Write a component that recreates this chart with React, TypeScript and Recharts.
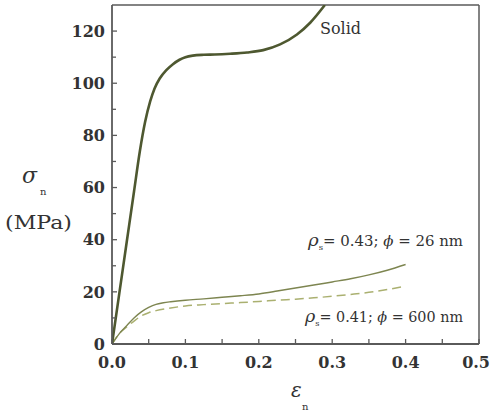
import { LineChart, Line, XAxis, YAxis, ReferenceLine } from "recharts";

// solid (bulk) curve
const solidX = [0, 0.01, 0.02, 0.03, 0.038, 0.045, 0.052, 0.058, 0.065, 0.074, 0.083, 0.092, 0.1, 0.11, 0.125, 0.14, 0.161, 0.184, 0.206, 0.229, 0.252, 0.27, 0.29];
const solidY = [0, 19.5, 39, 58.5, 74, 85, 93, 98, 101.8, 105, 107.3, 109, 110, 110.6, 110.9, 111, 111.3, 111.8, 112.7, 114.9, 118.7, 123.2, 130];

// rho = 0.43, phi = 26 nm
const fineX = [0, 0.01, 0.02, 0.03, 0.04, 0.05, 0.06, 0.07, 0.08, 0.1, 0.125, 0.15, 0.175, 0.2, 0.225, 0.25, 0.275, 0.3, 0.325, 0.35, 0.375, 0.4];
const fineY = [0, 4, 7, 10, 12.3, 14, 15.2, 15.8, 16.2, 16.8, 17.3, 17.9, 18.5, 19.2, 20.3, 21.5, 22.6, 23.8, 25, 26.5, 28.3, 30.5];

// rho = 0.41, phi = 600 nm
const coarseX = [0, 0.01, 0.02, 0.03, 0.04, 0.05, 0.06, 0.08, 0.1, 0.125, 0.15, 0.175, 0.2, 0.225, 0.25, 0.275, 0.3, 0.325, 0.35, 0.375, 0.4];
const coarseY = [0, 4, 6.5, 8.8, 10.8, 12, 12.8, 13.8, 14.6, 15.1, 15.5, 15.9, 16.3, 16.8, 17.2, 17.7, 18.3, 19, 19.8, 20.9, 22.2];

const xTicks = [0, 0.05, 0.1, 0.15, 0.2, 0.25, 0.3, 0.35, 0.4, 0.45, 0.5];
const yTicks = [0, 10, 20, 30, 40, 50, 60, 70, 80, 90, 100, 110, 120];

const toPoints = (xs: number[], ys: number[]) => xs.map((x, i) => ({ x, y: ys[i] }));
const solid = toPoints(solidX, solidY);
const fine = toPoints(fineX, fineY);
const coarse = toPoints(coarseX, coarseY);

const FONT = "DejaVu Serif, Liberation Serif, serif";
const AXIS = "#5a5a5a";

function XTick(props: any) {
  const { x, y, payload } = props;
  const v = payload.value as number;
  const major = Math.round(v * 20) % 2 === 0;
  const last = v >= 0.5;
  return (
    <g>
      <line x1={x} y1={y} x2={x} y2={y - 5} stroke={AXIS} strokeWidth={1.3} />
      {major && (
        <text
          x={last ? 490 : x}
          y={y + 24}
          textAnchor={last ? "end" : "middle"}
          fontFamily={FONT}
          fontWeight="bold"
          fontSize={16}
          fill="#333"
        >
          {v.toFixed(1)}
        </text>
      )}
    </g>
  );
}

function YTick(props: any) {
  const { x, y, payload } = props;
  const v = payload.value as number;
  const major = v % 20 === 0;
  return (
    <g>
      <line x1={x} y1={y} x2={x + (major ? 5 : 4)} y2={y} stroke={AXIS} strokeWidth={1.3} />
      {major && (
        <text x={x - 7} y={y} dy="0.36em" textAnchor="end" fontFamily={FONT} fontWeight="bold" fontSize={16} fill="#333">
          {v}
        </text>
      )}
    </g>
  );
}

export default function App() {
  return (
    <div style={{ position: "absolute", left: 0, top: 0, width: 491, height: 412, background: "#fff" }}>
      <LineChart width={491} height={412} margin={{ top: 5, right: 12, bottom: 0, left: 0 }}>
        <XAxis
          type="number"
          dataKey="x"
          domain={[0, 0.5]}
          ticks={xTicks}
          interval={0}
          tickSize={0}
          tickMargin={0}
          tickLine={false}
          tick={<XTick />}
          height={68}
          axisLine={{ stroke: AXIS, strokeWidth: 1.8 }}
          allowDataOverflow
        />
        <YAxis
          type="number"
          dataKey="y"
          domain={[0, 130]}
          ticks={yTicks}
          interval={0}
          tickSize={0}
          tickMargin={0}
          tickLine={false}
          tick={<YTick />}
          width={112}
          axisLine={{ stroke: AXIS, strokeWidth: 1.8 }}
          allowDataOverflow
        />
        <ReferenceLine y={130} stroke={AXIS} strokeWidth={1.5} />
        <ReferenceLine x={0.5} stroke={AXIS} strokeWidth={1.5} />
        <Line data={coarse} dataKey="y" type="monotone" stroke="#aab070" strokeWidth={1.5} strokeDasharray="9 5" dot={false} isAnimationActive={false} />
        <Line data={fine} dataKey="y" type="monotone" stroke="#7d8550" strokeWidth={1.4} dot={false} isAnimationActive={false} />
        <Line data={solid} dataKey="y" type="monotone" stroke="#4e5830" strokeWidth={2.6} dot={false} isAnimationActive={false} />
      </LineChart>
      <svg width={491} height={412} style={{ position: "absolute", left: 0, top: 0, pointerEvents: "none" }}>
        <g fontFamily={FONT} fill="#333">
          <text x={320} y={34} fontSize={16}>Solid</text>
          <text x={308} y={246} fontSize={14} textLength={155} lengthAdjust="spacingAndGlyphs">
            <tspan fontStyle="italic" fontSize={17}>ρ</tspan>
            <tspan fontSize={8} dy={4}>s</tspan>
            <tspan dy={-4}>= 0.43; </tspan>
            <tspan fontStyle="italic">ϕ</tspan>
            <tspan> = 26 nm</tspan>
          </text>
          <text x={305} y={322} fontSize={14} textLength={158} lengthAdjust="spacingAndGlyphs">
            <tspan fontStyle="italic" fontSize={17}>ρ</tspan>
            <tspan fontSize={8} dy={4}>s</tspan>
            <tspan dy={-4}>= 0.41; </tspan>
            <tspan fontStyle="italic">ϕ</tspan>
            <tspan> = 600 nm</tspan>
          </text>
          <text x={22} y={183} fontSize={22} fontStyle="italic">σ</text>
          <text x={40} y={195} fontSize={10}>n</text>
          <text x={5} y={229} fontSize={18} textLength={67} lengthAdjust="spacingAndGlyphs">(MPa)</text>
          <text x={291} y={397} fontSize={20} fontStyle="italic">ε</text>
          <text x={302} y={410} fontSize={10}>n</text>
        </g>
      </svg>
    </div>
  );
}
